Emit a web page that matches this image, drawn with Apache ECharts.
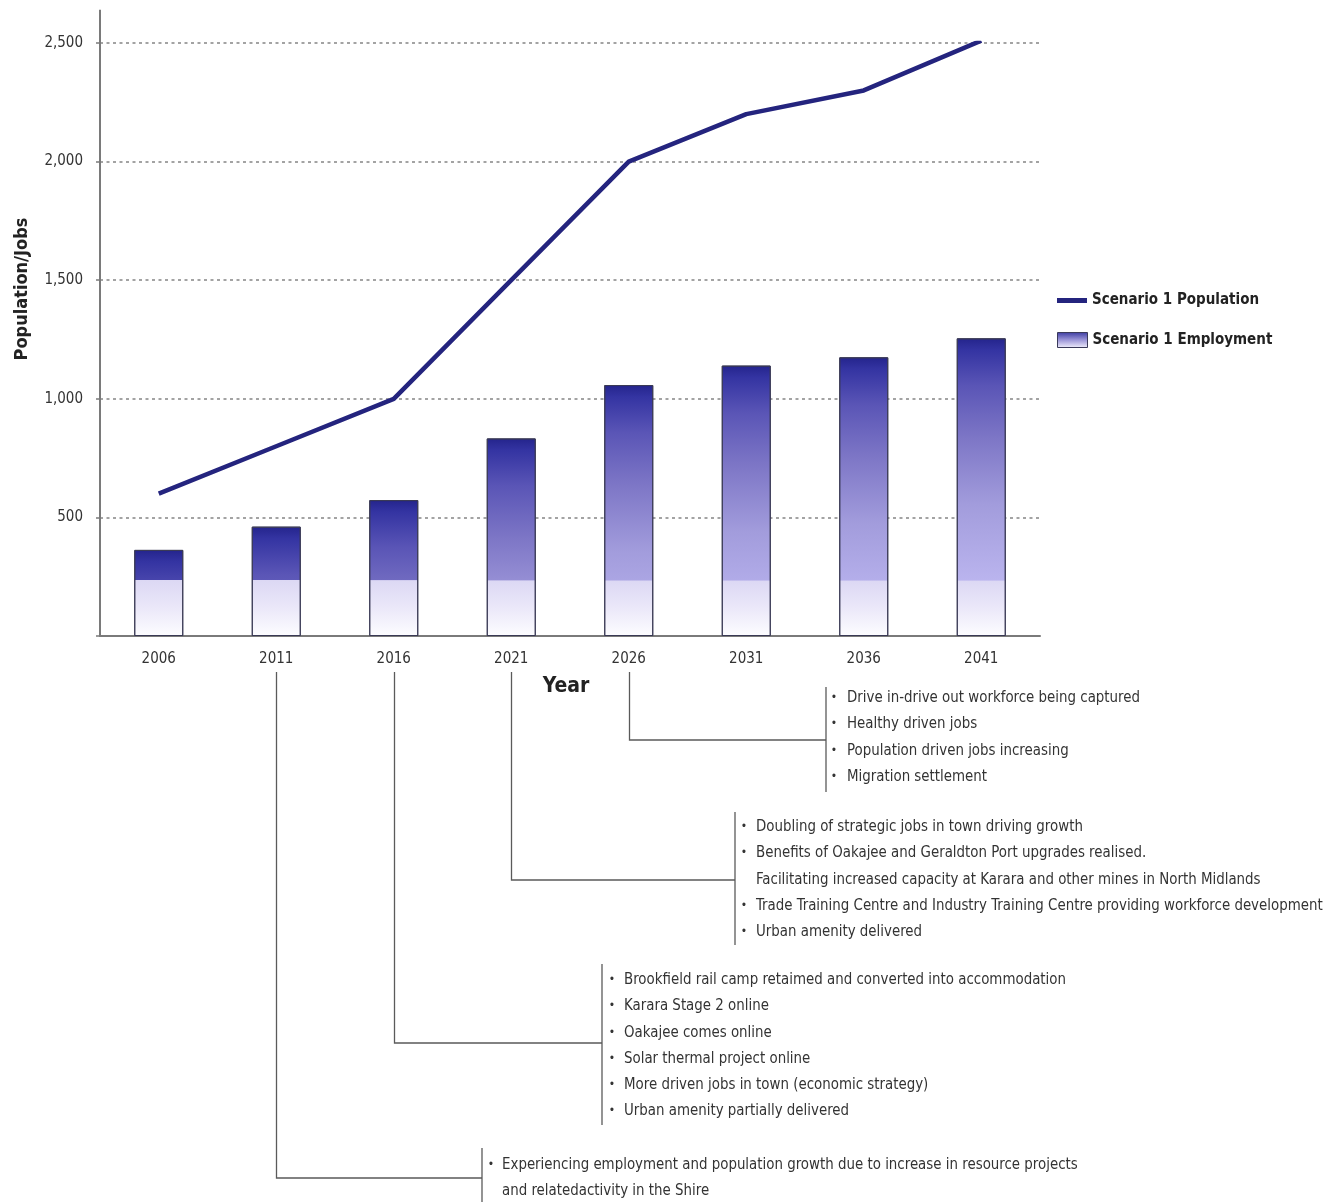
<!DOCTYPE html>
<html>
<head>
<meta charset="utf-8">
<title>Scenario 1 Population and Employment</title>
<script src="https://cdn.jsdelivr.net/npm/echarts@6/dist/echarts.min.js"></script>
<style>
  html, body { margin: 0; padding: 0; background: #ffffff; }
  #chart { width: 1326px; height: 1202px; }
</style>
</head>
<body>
<div id="chart"></div>
<script>
// ---- data ----
const years = ['2006', '2011', '2016', '2021', '2026', '2031', '2036', '2041'];
const population = [600, 800, 1000, 1500, 2000, 2200, 2300, 2510];
const employment = [363, 461, 573, 833, 1058, 1140, 1175, 1255];

// milestones listed under the timeline (a "\n" continues a bullet on a new line)
const milestones2026 = [
  'Drive in-drive out workforce being captured',
  'Healthy driven jobs',
  'Population driven jobs increasing',
  'Migration settlement'
];
const milestones2021 = [
  'Doubling of strategic jobs in town driving growth',
  'Benefits of Oakajee and Geraldton Port upgrades realised.\nFacilitating increased capacity at Karara and other mines in North Midlands',
  'Trade Training Centre and Industry Training Centre providing workforce development',
  'Urban amenity delivered'
];
const milestones2016 = [
  'Brookfield rail camp retaimed and converted into accommodation',
  'Karara Stage 2 online',
  'Oakajee comes online',
  'Solar thermal project online',
  'More driven jobs in town (economic strategy)',
  'Urban amenity partially delivered'
];
const milestones2011 = [
  'Experiencing employment and population growth due to increase in resource projects\nand relatedactivity in the Shire'
];

// ---- styling helpers ----
const FONT = "'Liberation Sans Narrow', 'Arial Narrow', 'DejaVu Sans Condensed', sans-serif";
const GRID = { left: 100, right: 286, top: 43, bottom: 566 };
const PALE_BAND = 235;   // employment value below which the bar fill turns pale

// colour of the upper part of a bar by depth below its top (value units)
const upperStops = [
  [0, '#24248c'], [50, '#3434a2'], [200, '#5a55b6'],
  [420, '#7d76c6'], [700, '#a29cdc'], [1020, '#bab4ee']
];
function hexToRgb(h) { return [1, 3, 5].map(i => parseInt(h.slice(i, i + 2), 16)); }
function lerpColor(a, b, t) {
  const A = hexToRgb(a), B = hexToRgb(b);
  return 'rgb(' + A.map((v, i) => Math.round(v + (B[i] - v) * t)).join(',') + ')';
}
function colorAtDepth(d) {
  for (let i = 1; i < upperStops.length; i++) {
    if (d <= upperStops[i][0]) {
      const [d0, c0] = upperStops[i - 1], [d1, c1] = upperStops[i];
      return lerpColor(c0, c1, (d - d0) / (d1 - d0));
    }
  }
  return upperStops[upperStops.length - 1][1];
}
function barFill(value) {
  const upper = Math.max(value - PALE_BAND, 0);
  const stops = [];
  upperStops.forEach(([d, c]) => { if (d < upper) stops.push({ offset: d / value, color: c }); });
  const cut = upper / value;
  stops.push({ offset: cut, color: colorAtDepth(upper) });
  stops.push({ offset: Math.min(cut + 0.002, 1), color: '#dcd8f4' });
  stops.push({ offset: cut + (1 - cut) * 0.5, color: '#ebe8f9' });
  stops.push({ offset: 1, color: '#fdfdff' });
  return new echarts.graphic.LinearGradient(0, 0, 0, 1, stops);
}

const legendText = { fontFamily: FONT, fontWeight: 'bold', fontSize: 15, color: '#222' };

const chart = echarts.init(document.getElementById('chart'), null, { renderer: 'canvas' });

const option = {
  backgroundColor: '#ffffff',
  animation: false,
  grid: GRID,
  legend: [
    {
      left: 1057, top: 293, padding: 0, itemWidth: 30, itemHeight: 5, selectedMode: false,
      textStyle: legendText,
      data: [{ name: 'Scenario 1 Population', icon: 'rect', itemStyle: { color: '#24247e' } }]
    },
    {
      left: 1057, top: 332, padding: 0, itemWidth: 30, itemHeight: 15, selectedMode: false,
      textStyle: legendText,
      data: [{
        name: 'Scenario 1 Employment', icon: 'rect',
        itemStyle: {
          color: new echarts.graphic.LinearGradient(0, 0, 0, 1, [
            { offset: 0, color: '#3a3aa0' }, { offset: 0.5, color: '#9c96d8' }, { offset: 1, color: '#f2f0fc' }
          ]),
          borderColor: '#3a3a5a', borderWidth: 1
        }
      }]
    }
  ],
  xAxis: {
    type: 'category',
    data: years,
    boundaryGap: true,
    name: 'Year',
    nameLocation: 'middle',
    nameGap: 40,
    nameTextStyle: { fontFamily: FONT, fontWeight: 'bold', fontSize: 21, color: '#222', padding: [0, 8, 0, 0] },
    axisLine: { lineStyle: { color: '#7a7a7a', width: 2 } },
    axisTick: { show: false },
    axisLabel: { margin: 16, fontFamily: FONT, fontSize: 15, color: '#333' },
    splitLine: { show: false }
  },
  yAxis: {
    type: 'value',
    min: 0,
    max: 2500,
    interval: 500,
    axisLine: { show: true, lineStyle: { color: '#7a7a7a', width: 2 } },
    axisTick: { show: true, length: 4, lineStyle: { color: '#7a7a7a', width: 1.5 } },
    axisLabel: {
      margin: 17, fontFamily: FONT, fontSize: 15, color: '#333', lineHeight: 20, padding: [4, 0, 0, 0],
      formatter: v => (v === 0 ? '' : v.toLocaleString('en-US'))
    },
    splitLine: { show: true, lineStyle: { color: '#858585', width: 1.5, type: [3, 3.5] } }
  },
  series: [
    {
      name: 'Scenario 1 Employment',
      type: 'bar',
      data: employment,
      barWidth: 49,
      z: 2,
      itemStyle: {
        color: p => barFill(p.value),
        borderColor: '#3a3a55',
        borderWidth: 1
      }
    },
    {
      name: 'Scenario 1 Population',
      type: 'line',
      data: population,
      symbol: 'none',
      z: 3,
      lineStyle: { color: '#24247e', width: 4.5 },
      itemStyle: { color: '#24247e' }
    }
  ]
};

chart.setOption(option);

// ---- timeline call-outs and axis extension ----
const LINE_H = 26.25;
const TEXT_SCALE = 0.93;   // narrows the note text
const calloutLayout = [
  { year: '2026', items: milestones2026, bracketX: 826, elbowY: 740, spanTop: 687, spanBottom: 792, firstY: 698, bulletX: 834, textX: 847 },
  { year: '2021', items: milestones2021, bracketX: 735, elbowY: 880, spanTop: 812, spanBottom: 945, firstY: 827, bulletX: 744, textX: 756 },
  { year: '2016', items: milestones2016, bracketX: 602, elbowY: 1043, spanTop: 964, spanBottom: 1125, firstY: 980, bulletX: 612, textX: 624 },
  { year: '2011', items: milestones2011, bracketX: 482, elbowY: 1178, spanTop: 1148, spanBottom: 1210, firstY: 1165, bulletX: 491, textX: 502 }
];
const STEM_TOP = 672;
const connector = { stroke: '#5a5a5a', lineWidth: 1.3 };
const graphics = [];

// the vertical axis runs a little above the top gridline
const yTopPx = chart.convertToPixel({ yAxisIndex: 0 }, 2500);
const yExtPx = chart.convertToPixel({ yAxisIndex: 0 }, 2640);
graphics.push({
  type: 'line', silent: true,
  shape: { x1: GRID.left, y1: yTopPx + 1, x2: GRID.left, y2: yExtPx },
  style: { stroke: '#7a7a7a', lineWidth: 2 }
});

calloutLayout.forEach(g => {
  const cx = Math.round(chart.convertToPixel({ xAxisIndex: 0 }, g.year)) + 0.5;
  graphics.push({ type: 'polyline', silent: true,
    shape: { points: [[cx, STEM_TOP], [cx, g.elbowY], [g.bracketX, g.elbowY]] },
    style: Object.assign({ fill: null }, connector) });
  graphics.push({ type: 'line', silent: true,
    shape: { x1: g.bracketX, y1: g.spanTop, x2: g.bracketX, y2: g.spanBottom },
    style: connector });
  let row = 0;
  g.items.forEach(item => {
    item.split('\n').forEach((txt, k) => {
      const y = g.firstY + row * LINE_H;
      if (k === 0) {
        graphics.push({ type: 'text', silent: true, x: g.bulletX, y: y,
          style: { text: '•', font: '12px ' + FONT, fill: '#333', align: 'center', verticalAlign: 'middle' } });
      }
      graphics.push({ type: 'text', silent: true, x: g.textX, y: y, scaleX: TEXT_SCALE,
        style: { text: txt, font: '16px ' + FONT, fill: '#333', align: 'left', verticalAlign: 'middle' } });
      row++;
    });
  });
});

// rotated y-axis title
graphics.push({
  type: 'text', silent: true, x: 22, y: 289, rotation: Math.PI / 2,
  style: { text: 'Population/Jobs', font: 'bold 18px ' + FONT, fill: '#222', align: 'center', verticalAlign: 'middle' }
});

chart.setOption({ graphic: graphics });
</script>
</body>
</html>
